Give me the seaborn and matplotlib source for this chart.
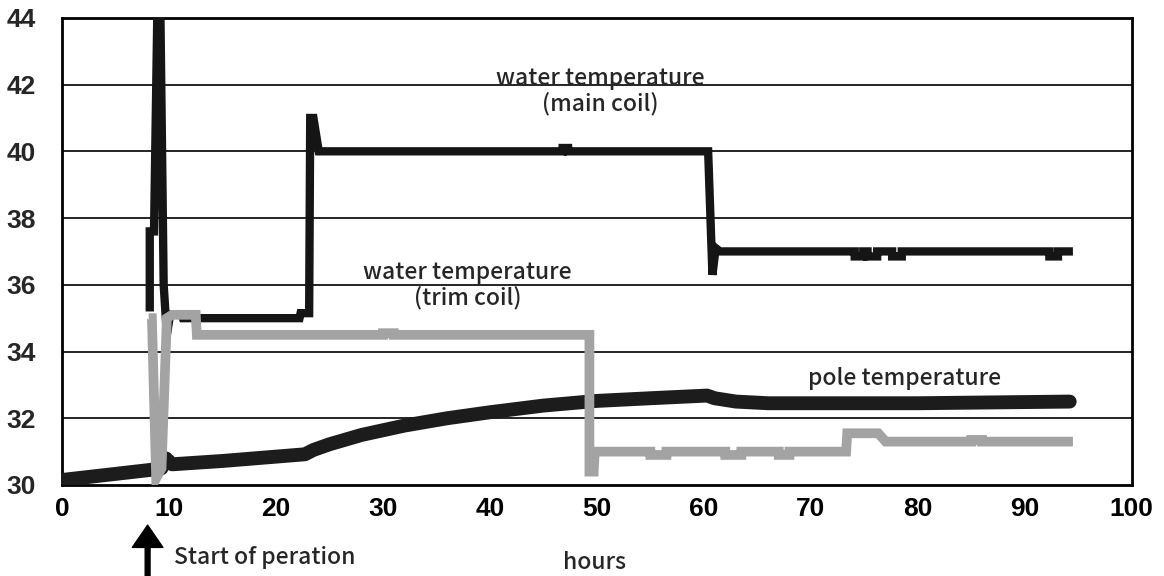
import matplotlib
matplotlib.use("Agg")
import matplotlib.pyplot as plt
import pandas as pd
import seaborn as sns

# water temperature, main coil (hours, deg C)
main_hours = [8.2, 8.2, 8.6, 8.9, 9.2, 9.5, 9.8, 10.1, 11.2, 11.3, 22.2, 22.3, 23.1,
              23.2, 23.5, 24.0, 46.8, 46.8, 47.3, 47.3, 60.4, 60.8, 61.1, 61.5,
              74.1, 74.1, 74.9, 74.9, 75.3, 75.3, 76.2, 76.2, 77.6, 77.6, 78.5, 78.5,
              92.3, 92.3, 93.1, 93.1, 94.5]
main_temp = [35.2, 37.6, 37.6, 44.0, 44.0, 36.0, 34.5, 35.1, 35.1, 35.0, 35.0, 35.15, 35.15,
             41.0, 41.0, 40.0, 40.0, 40.1, 40.1, 40.0, 40.0, 36.3, 37.1, 37.0,
             37.0, 36.85, 36.85, 37.0, 37.0, 36.85, 36.85, 37.0, 37.0, 36.85, 36.85, 37.0,
             37.0, 36.85, 36.85, 37.0, 37.0]

# water temperature, trim coil
trim_hours = [8.1, 8.4, 8.8, 9.3, 9.8, 10.3, 12.5, 12.6, 30.0, 30.0, 31.0, 31.0, 49.3, 49.3,
              49.7, 49.8, 55.0, 55.0, 56.5, 56.5, 62.0, 62.0, 63.5, 63.5, 67.0, 67.0,
              68.0, 68.0, 73.3, 73.4, 76.3, 77.0, 85.0, 85.0, 86.0, 86.0, 94.5]
trim_temp = [35.0, 35.0, 30.2, 30.5, 35.0, 35.1, 35.1, 34.5, 34.5, 34.55, 34.55, 34.5, 34.5, 30.4,
             30.4, 31.0, 31.0, 30.9, 30.9, 31.0, 31.0, 30.9, 30.9, 31.0, 31.0, 30.9,
             30.9, 31.0, 31.0, 31.55, 31.55, 31.3, 31.3, 31.35, 31.35, 31.3, 31.3]

# pole temperature
pole_hours = [0, 8.2, 9.3, 9.7, 10.3, 15, 22.7, 23.5, 25, 28, 32, 36, 40, 45, 50, 55,
              60.3, 61, 63, 66, 70, 80, 94.2]
pole_temp = [30.15, 30.45, 30.5, 30.8, 30.62, 30.72, 30.92, 31.05, 31.22, 31.5, 31.78, 32.0,
             32.18, 32.38, 32.52, 32.6, 32.68, 32.6, 32.5, 32.45, 32.45, 32.45, 32.5]

x_ticks = [0, 10, 20, 30, 40, 50, 60, 70, 80, 90, 100]
y_ticks = [30, 32, 34, 36, 38, 40, 42, 44]

sns.set_style("white")
plt.rcParams["font.family"] = ["Liberation Sans", "DejaVu Sans"]

fig = plt.figure(figsize=(11.64, 5.76), dpi=100)
ax = fig.add_axes([0.0533, 0.158, 0.919, 0.811])

pole = pd.DataFrame({"hours": pole_hours, "temp": pole_temp})
main = pd.DataFrame({"hours": main_hours, "temp": main_temp})
trim = pd.DataFrame({"hours": trim_hours, "temp": trim_temp})

for y in y_ticks[1:-1]:
    ax.axhline(y, color="black", lw=1.2, zorder=1)

sns.lineplot(data=pole, x="hours", y="temp", ax=ax, sort=False, estimator=None,
             color="#1c1c1c", lw=10, solid_capstyle="round", solid_joinstyle="round", zorder=3)
sns.lineplot(data=main, x="hours", y="temp", ax=ax, sort=False, estimator=None,
             color="#151515", lw=6, solid_capstyle="butt", solid_joinstyle="miter", zorder=4)
sns.lineplot(data=trim, x="hours", y="temp", ax=ax, sort=False, estimator=None,
             color="#a3a3a3", lw=7, solid_capstyle="butt", solid_joinstyle="miter", zorder=5)

ax.set_xlim(0, 100)
ax.set_ylim(30, 44)
ax.set_xticks(x_ticks)
ax.set_yticks(y_ticks)
ax.set_xlabel("")
ax.set_ylabel("")
ax.tick_params(axis="x", direction="in", length=7, width=1.5, pad=9, labelsize=19, colors="black")
ax.tick_params(axis="y", length=0, pad=19, labelsize=19)
for lab in ax.get_xticklabels() + ax.get_yticklabels():
    lab.set_fontweight("bold")
for sp in ax.spines.values():
    sp.set_color("black")
    sp.set_linewidth(2)

note_font = ["Noto Sans CJK JP", "DejaVu Sans"]
note_kw = dict(fontsize=16.5, family=note_font, fontweight="medium", zorder=6)
ax.text(50.3, 41.8, "water temperature\n(main coil)", ha="center", va="center",
        linespacing=1.1, **note_kw)
ax.text(37.9, 36.0, "water temperature\n(trim coil)", ha="center", va="center",
        linespacing=1.1, **note_kw)
ax.text(78.8, 33.2, "pole temperature", ha="center", va="center", **note_kw)

# annotations below the axis
ax.annotate("", xy=(8.0, -0.086), xycoords=("data", "axes fraction"),
            xytext=(8.0, -0.21), textcoords=("data", "axes fraction"),
            arrowprops=dict(width=3.5, headwidth=22, headlength=16, color="black"),
            annotation_clip=False)
ax.text(10.5, -0.155, "Start of peration", transform=ax.get_xaxis_transform(),
        ha="left", va="center", **note_kw)
ax.text(49.8, -0.165, "hours", transform=ax.get_xaxis_transform(),
        ha="center", va="center", **note_kw)

fig.savefig("out.png", dpi=100)
